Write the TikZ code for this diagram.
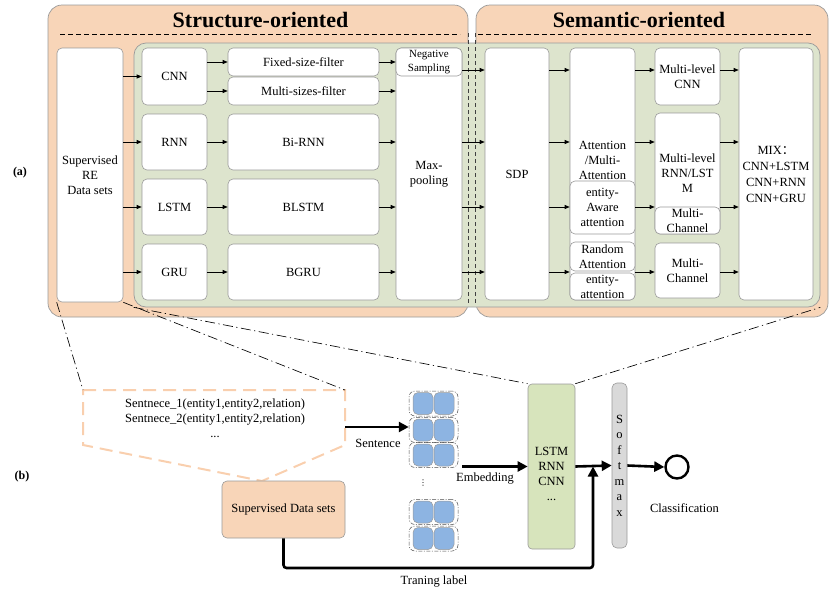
\documentclass[tikz,border=0pt]{standalone}
\usepackage{fontspec}
\setmainfont{Liberation Serif}
\newfontfamily\cjkfont{Noto Sans CJK SC}
\newfontfamily\dejavu{DejaVu Sans}
\usetikzlibrary{arrows.meta}
\definecolor{peach}{HTML}{F8D5B8}
\definecolor{sage}{HTML}{DDE4CD}
\definecolor{lgreen}{HTML}{D7E4BC}
\definecolor{bord}{HTML}{9A9A9A}
\definecolor{blu}{HTML}{8DB4E2}
\definecolor{sgray}{HTML}{D9D9D9}
\definecolor{pdashcol}{HTML}{F9CFAE}
\begin{document}
\begin{tikzpicture}[x=1pt,y=-1pt,
  font=\fontsize{12.5}{15}\selectfont,
  peachbox/.style={draw=bord, fill=peach, rounded corners=14pt, line width=0.7pt, inner sep=0pt},
  greenbox/.style={draw=bord, fill=sage, rounded corners=12pt, line width=0.7pt, inner sep=0pt},
  wbox/.style={draw=bord, fill=white, rounded corners=5pt, line width=0.6pt, inner sep=0pt, align=center},
  txt/.style={inner sep=0pt, align=center},
  arr/.style={line width=0.7pt, -{Triangle[length=5pt,width=4pt]}},
  bigarr/.style={line width=2.6pt, -{Triangle[length=10pt,width=10pt]}},
  dashdot/.style={line width=0.65pt, dash pattern=on 10pt off 3.5pt on 1.2pt off 3.5pt},
  tdash/.style={line width=0.7pt, dash pattern=on 5pt off 3pt},
  vdash/.style={line width=0.7pt, dash pattern=on 4pt off 3pt, draw=black!75},
  pdash/.style={draw=pdashcol, line width=2pt, dash pattern=on 13pt off 7pt},
  ttl/.style={font=\bfseries\fontsize{22}{24}\selectfont, inner sep=0pt},
  lab/.style={font=\bfseries\fontsize{12}{14}\selectfont, inner sep=0pt},
  econt/.style={draw=black!70, line width=0.5pt, dash pattern=on 4pt off 1.5pt on 1pt off 1.5pt, rounded corners=6pt, minimum width=49pt, minimum height=25pt, inner sep=0pt},
  esq/.style={draw=bord, fill=blu, rounded corners=5pt, minimum width=20pt, minimum height=22pt, inner sep=0pt, line width=0.5pt},
]
\useasboundingbox (0,0) rectangle (831,592);
% background panels
\node[peachbox, minimum width=420pt, minimum height=312pt] (pL) at (258,161) {};
\node[peachbox, minimum width=352pt, minimum height=312pt] (pR) at (652,161) {};
\node[ttl] (t1) at (260.5,20) {Structure-oriented};
\node[ttl] (t2) at (639,20) {Semantic-oriented};
\draw[tdash] (60,34) -- (460,34);
\draw[tdash] (478,34) -- (813,34);
\node[greenbox, minimum width=686pt, minimum height=264pt] (gb) at (477,175) {};
\draw[vdash] (468,33) -- (468,305);
\draw[vdash] (475,33) -- (475,305);
% boxes
\node[wbox, minimum width=66pt, minimum height=254pt] (sup) at (90,175) {Supervised\\RE\\Data sets};
\node[wbox, minimum width=65pt, minimum height=57pt] (cnn) at (174.5,76.5) {CNN};
\node[wbox, minimum width=65pt, minimum height=56pt] (rnn) at (174.5,142) {RNN};
\node[wbox, minimum width=65pt, minimum height=56pt] (lstm) at (174.5,207) {LSTM};
\node[wbox, minimum width=65pt, minimum height=56pt] (gru) at (174.5,272) {GRU};
\node[wbox, minimum width=151pt, minimum height=28pt] (fixed) at (303.5,62) {Fixed-size-filter};
\node[wbox, minimum width=151pt, minimum height=28pt] (multi) at (303.5,91) {Multi-sizes-filter};
\node[wbox, minimum width=151pt, minimum height=56pt] (birnn) at (303.5,142) {Bi-RNN};
\node[wbox, minimum width=151pt, minimum height=56pt] (blstm) at (303.5,207) {BLSTM};
\node[wbox, minimum width=151pt, minimum height=56pt] (bgru) at (303.5,272) {BGRU};
\node[wbox, minimum width=66pt, minimum height=252pt] (maxp) at (429,174) {Max-\\pooling};
\node[wbox, minimum width=66pt, minimum height=28pt, font=\fontsize{11}{14}\selectfont] (neg) at (429,62) {Negative\\Sampling};
\node[wbox, minimum width=64pt, minimum height=252pt] (sdp) at (517,174) {SDP};
\node[wbox, minimum width=65pt, minimum height=252pt] (att) at (602.5,174) {};
\node[txt] (attT) at (602.5,160) {Attention\\/Multi-\\Attention};
\node[wbox, minimum width=65pt, minimum height=53pt] (eaa) at (602.5,207.5) {entity-\\Aware\\attention};
\node[wbox, minimum width=65pt, minimum height=29pt] (ra) at (602.5,256.5) {Random\\Attention};
\node[wbox, minimum width=65pt, minimum height=27pt] (ea) at (602.5,286.5) {entity-\\attention};
\node[wbox, minimum width=65pt, minimum height=57pt] (mlcnn) at (687.5,76.5) {Multi-level\\CNN};
\node[wbox, minimum width=65pt, minimum height=121pt] (mlrnn) at (687.5,173.5) {Multi-level\\RNN/LST\\M};
\node[wbox, minimum width=65pt, minimum height=27pt] (mc1) at (687.5,220.5) {Multi-\\Channel};
\node[wbox, minimum width=65pt, minimum height=55pt] (mc2) at (687.5,270.5) {Multi-\\Channel};
\node[wbox, minimum width=74pt, minimum height=252pt, font=\fontsize{12.5}{16}\selectfont] (mix) at (776,174) {MIX{\cjkfont ：}\\CNN+LSTM\\CNN+RNN\\CNN+GRU};
% row levels
\coordinate (r1) at (0,70);
\coordinate (r2) at (0,142);
\coordinate (r3) at (0,207);
\coordinate (r4) at (0,272);
% arrows top
\draw[arr] (sup.east |- cnn.west) -- (cnn.west);
\draw[arr] (sup.east |- rnn.west) -- (rnn.west);
\draw[arr] (sup.east |- lstm.west) -- (lstm.west);
\draw[arr] (sup.east |- gru.west) -- (gru.west);
\draw[arr] (cnn.east |- fixed.west) -- (fixed.west);
\draw[arr] (cnn.east |- multi.west) -- (multi.west);
\draw[arr] (rnn.east) -- (birnn.west);
\draw[arr] (lstm.east) -- (blstm.west);
\draw[arr] (gru.east) -- (bgru.west);
\draw[arr] (fixed.east) -- (fixed.east -| maxp.west);
\draw[arr] (multi.east) -- (multi.east -| maxp.west);
\draw[arr] (birnn.east) -- (birnn.east -| maxp.west);
\draw[arr] (blstm.east) -- (blstm.east -| maxp.west);
\draw[arr] (bgru.east) -- (bgru.east -| maxp.west);
\draw[arr] (neg.east |- r1) -- (sdp.west |- r1);
\draw[arr] (maxp.east |- r2) -- (sdp.west |- r2);
\draw[arr] (maxp.east |- r3) -- (sdp.west |- r3);
\draw[arr] (maxp.east |- r4) -- (sdp.west |- r4);
\draw[arr] (sdp.east |- r1) -- (att.west |- r1);
\draw[arr] (sdp.east |- r2) -- (att.west |- r2);
\draw[arr] (sdp.east |- r3) -- (att.west |- r3);
\draw[arr] (sdp.east |- r4) -- (att.west |- r4);
\draw[arr] (att.east |- r1) -- (mlcnn.west |- r1);
\draw[arr] (att.east |- r2) -- (mlrnn.west |- r2);
\draw[arr] (eaa.east |- r3) -- (mlrnn.west |- r3);
\draw[arr] (ea.east |- r4) -- (mc2.west |- r4);
\draw[arr] (mlcnn.east |- r1) -- (mix.west |- r1);
\draw[arr] (mlrnn.east |- r2) -- (mix.west |- r2);
\draw[arr] (mlrnn.east |- r3) -- (mix.west |- r3);
\draw[arr] (mc2.east |- r4) -- (mix.west |- r4);
% labels
\node[lab] (la) at (20,173) {(a)};
\node[lab] (lb) at (22,477) {(b)};
% bottom part
\coordinate (pTL) at (83,390);
\coordinate (pTR) at (345,390);
\coordinate (pBR) at (345,445);
\coordinate (pB) at (262,481);
\coordinate (pBL) at (83,445);
\draw[pdash] (pTL) -- (pTR) -- (pBR) -- (pB) -- (pBL) -- cycle;
\node[txt] (sents) at (215,418) {Sentnece\_1(entity1,entity2,relation)\\Sentnece\_2(entity1,entity2,relation)\\...};
\node[draw=bord, fill=peach, rounded corners=5pt, minimum width=123pt, minimum height=57pt, line width=0.6pt, inner sep=0pt] (sds) at (283.5,509.5) {Supervised Data sets};
\foreach \i/\yy in {1/403.5,2/430,3/455,4/512,5/538.5} {
  \node[econt] (e\i) at (433.5,\yy) {};
  \node[esq] (sqa\i) at (423,\yy) {};
  \node[esq] (sqb\i) at (444,\yy) {};
}
\node[txt, font=\dejavu\fontsize{8}{8}\selectfont] (vd) at (423,483) {⋮};
\node[draw=bord, fill=lgreen, rounded corners=4pt, minimum width=47pt, minimum height=165pt, line width=0.6pt, inner sep=0pt] (lstmb) at (551.5,466.5) {};
\node[txt] (lstmT) at (551.5,474) {LSTM\\RNN\\CNN\\...};
\node[draw=bord, fill=sgray, rounded corners=5pt, minimum width=15pt, minimum height=165pt, align=center, inner sep=0pt, line width=0.6pt, font=\fontsize{12.5}{15.5}\selectfont] (soft) at (619.5,465.5) {S\\o\\f\\t\\m\\a\\x};
\node[circle, draw, line width=2.4pt, minimum size=23pt, inner sep=0pt] (circ) at (677,467) {};
% dash-dot zoom lines
\draw[dashdot] (sup.south west) -- (pTL);
\draw[dashdot] (sup.south east) -- (pTR);
\draw[dashdot] (gb.south west) -- (lstmb.north west);
\draw[dashdot] (lstmb.north east) -- (gb.south east);
% thick arrows
\coordinate (sArr) at ([yshift=3pt]e2.west);
\draw[bigarr] (sArr -| pTR) -- (sArr);
\path (e3.east |- lstmb.west) ++(4,0) coordinate (embS);
\draw[bigarr] (embS) -- (lstmb.west);
\draw[bigarr] (lstmb.east) -- (soft.west);
\coordinate (tl) at (593,568);
\draw[bigarr, rounded corners=3pt] (sds.south) |- (tl) -- (tl |- lstmb.east);
\draw[bigarr] (soft.east) -- (circ.west);
\node[txt] (sentL) at (378,443) {Sentence};
\node[txt] (embL) at (485,479) {Embedding};
\node[txt] (clsL) at (684.5,508) {Classification};
\node[txt] (trL) at (434,582) {Traning label};
\end{tikzpicture}
\end{document}
